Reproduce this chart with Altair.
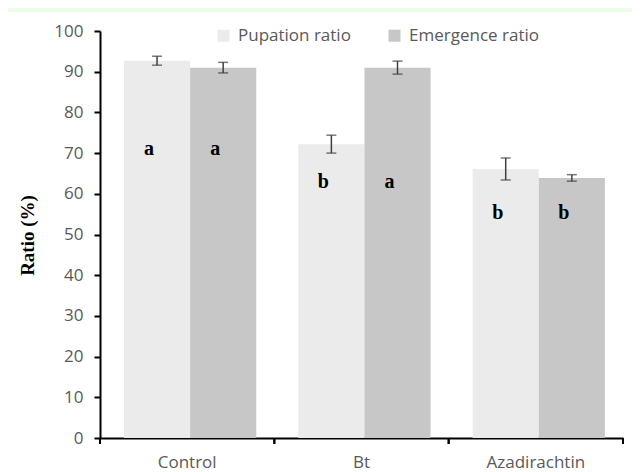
import altair as alt
import pandas as pd

treatments = ["Control", "Bt", "Azadirachtin"]
series = ["Pupation ratio", "Emergence ratio"]
pupation = [92.7, 72.2, 66.1]
pupation_err = [1.1, 2.2, 2.7]
emergence = [91.0, 91.0, 63.9]
emergence_err = [1.3, 1.6, 0.8]
pupation_letters = ["a", "b", "b"]
emergence_letters = ["a", "a", "b"]
letter_pos = [69.5, 61.4, 53.9]

rows = []
for i, t in enumerate(treatments):
    rows.append(dict(treatment=t, series=series[0], value=pupation[i],
                     lo=pupation[i] - pupation_err[i], hi=pupation[i] + pupation_err[i],
                     letter=pupation_letters[i], ly=letter_pos[i]))
    rows.append(dict(treatment=t, series=series[1], value=emergence[i],
                     lo=emergence[i] - emergence_err[i], hi=emergence[i] + emergence_err[i],
                     letter=emergence_letters[i], ly=letter_pos[i]))
df = pd.DataFrame(rows)
df_t = pd.DataFrame({"treatment": treatments})

W, H = 523, 407

xs = alt.Scale(domain=treatments, paddingInner=0, paddingOuter=0)
xo = alt.XOffset("series:N", sort=series,
                 scale=alt.Scale(domain=series, paddingInner=0, paddingOuter=0.318, align=0.57))
x_enc = alt.X("treatment:N", sort=treatments, scale=xs,
              axis=alt.Axis(title=None, ticks=False, labelAngle=0, labelFont="Open Sans",
                            labelFontSize=17, labelColor="#595959", labelPadding=16,
                            domainColor="black", domainWidth=2))
y_enc = alt.Y("value:Q", scale=alt.Scale(domain=[0, 100], nice=False),
              axis=alt.Axis(values=list(range(0, 101, 10)), title="Ratio (%)",
                            titleFont="Liberation Serif", titleFontWeight="bold",
                            titleFontSize=19, titleColor="black", titleX=-73, titleY=204,
                            titleAngle=270, titleAlign="center", titleBaseline="middle",
                            labelFont="Open Sans", labelFontSize=17, labelColor="#595959",
                            tickColor="black", tickSize=6, tickWidth=2, labelPadding=11,
                            domainColor="black", domainWidth=2, grid=False))

band = alt.Chart(alt.Data(values=[{"a": 1}])).mark_rect(color="#eefbe8").encode(
    x=alt.value(-92), x2=alt.value(540), y=alt.value(-23), y2=alt.value(-19))

bars = alt.Chart(df).mark_bar().encode(
    x=x_enc, xOffset=xo, y=y_enc,
    color=alt.Color("series:N", sort=series,
                    scale=alt.Scale(domain=series, range=["#ebebeb", "#c7c7c7"]),
                    legend=alt.Legend(title=None, orient="none", legendX=115, legendY=-4,
                                      direction="horizontal", columns=2, symbolType="square",
                                      symbolSize=144, symbolStrokeWidth=0,
                                      labelFont="Open Sans", labelFontSize=17,
                                      labelColor="#595959", labelOffset=6,
                                      columnPadding=35)))

err = alt.Chart(df).mark_rule(color="#404040", strokeWidth=1.5).encode(
    x=alt.X("treatment:N", sort=treatments, scale=xs), xOffset=xo,
    y="lo:Q", y2="hi:Q")
cap_lo = alt.Chart(df).mark_tick(color="#404040", thickness=1.5, size=10).encode(
    x=alt.X("treatment:N", sort=treatments, scale=xs), xOffset=xo, y="lo:Q")
cap_hi = alt.Chart(df).mark_tick(color="#404040", thickness=1.5, size=10).encode(
    x=alt.X("treatment:N", sort=treatments, scale=xs), xOffset=xo, y="hi:Q")

letters = alt.Chart(df).mark_text(font="Liberation Serif", fontWeight="bold", fontSize=20,
                                  baseline="alphabetic", dx=-8, color="black").encode(
    x=alt.X("treatment:N", sort=treatments, scale=xs), xOffset=xo, y="ly:Q", text="letter:N")

tick0 = alt.Chart(df_t).mark_rule(color="black", strokeWidth=2).encode(
    x=alt.X("treatment:N", sort=treatments, scale=xs, bandPosition=0),
    y=alt.value(H), y2=alt.value(H + 6))
tick1 = alt.Chart(df_t).mark_rule(color="black", strokeWidth=2).encode(
    x=alt.X("treatment:N", sort=treatments, scale=xs, bandPosition=1),
    y=alt.value(H), y2=alt.value(H + 6))

chart = alt.layer(band, bars, err, cap_lo, cap_hi, letters, tick0, tick1).properties(
    width=W, height=H,
    autosize=alt.AutoSizeParams(type="none"),
    padding={"left": 92, "top": 23, "right": 9, "bottom": 40},
).configure_view(stroke=None)

chart.save("out.html", embed_options={"renderer": "svg", "actions": False})
